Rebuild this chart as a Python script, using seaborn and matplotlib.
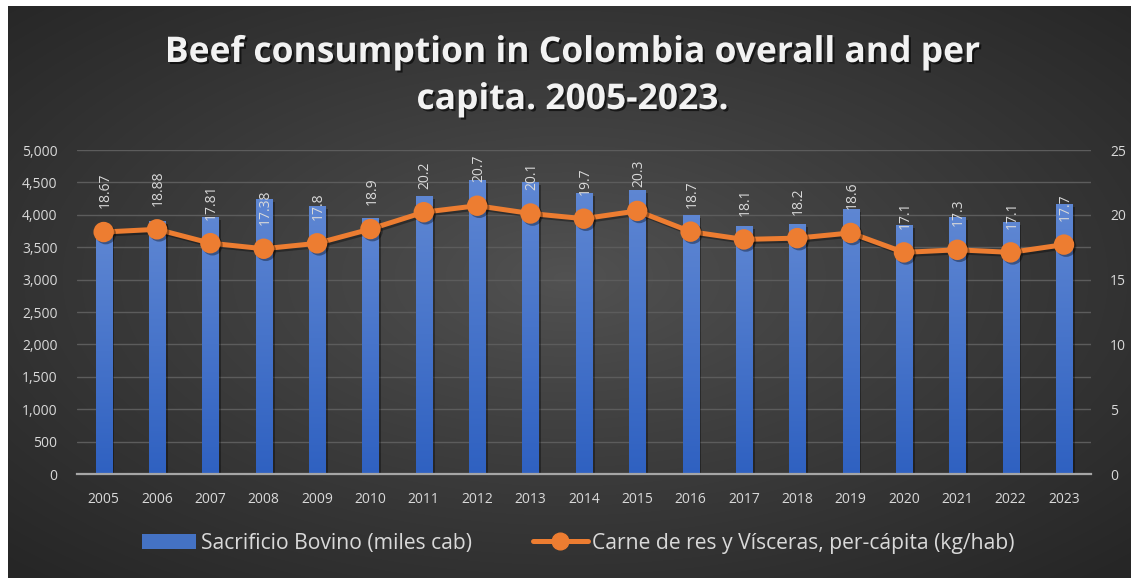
import numpy as np
import matplotlib
matplotlib.use("Agg")
import matplotlib.pyplot as plt
import matplotlib.patheffects as pe
from matplotlib.colors import LinearSegmentedColormap, to_rgb
from matplotlib.patches import Patch
from matplotlib.lines import Line2D
import seaborn as sns

# ---- data -------------------------------------------------------------
years = [str(y) for y in range(2005, 2024)]
sacrificio = [3740, 3905, 3965, 4245, 4140, 3955, 4290, 4540, 4505, 4335,
              4385, 4000, 3830, 3860, 4090, 3845, 3965, 3890, 4170]
per_capita = [18.67, 18.88, 17.81, 17.38, 17.8, 18.9, 20.2, 20.7, 20.1, 19.7,
              20.3, 18.7, 18.1, 18.2, 18.6, 17.1, 17.3, 17.1, 17.7]
left_ticks = list(range(0, 5001, 500))
right_ticks = list(range(0, 26, 5))
title_lines = ["Beef consumption in Colombia overall and per",
               "capita. 2005-2023."]
bar_label = "Sacrificio Bovino (miles cab)"
line_label = "Carne de res y Vísceras, per-cápita (kg/hab)"

# ---- style ------------------------------------------------------------
sns.set_theme(style="white")
plt.rcParams["font.family"] = ["Open Sans", "DejaVu Sans"]

TEXT = "#d9d9d9"
ORANGE = "#ED7D31"
BLUE = "#4472C4"

W, H, DPI = 1131, 578, 100
fig = plt.figure(figsize=(W / DPI, H / DPI), dpi=DPI, facecolor="white")

# dark panel with a soft radial gradient
bg = fig.add_axes([0, 0, 1, 1])
bg.set_axis_off()
yy, xx = np.mgrid[0:H, 0:W]
cx, cy = 0.50 * W, 0.48 * H
d = np.sqrt(((xx - cx) / (W / 2)) ** 2 + ((yy - cy) / (H / 2)) ** 2) / np.sqrt(2)
d = np.clip(d, 0, 1) ** 0.9
c_in = np.array(to_rgb("#525252"))
c_out = np.array(to_rgb("#262626"))
img = c_in[None, None, :] * (1 - d[..., None]) + c_out[None, None, :] * d[..., None]
mask = (xx < 8) | (yy < 6)
img[mask] = 1.0
bg.imshow(img, aspect="auto", interpolation="bilinear")

# ---- main axes --------------------------------------------------------
ax = fig.add_axes([77 / W, 1 - 474 / H, (1090.7 - 77) / W, (474 - 150) / H])
ax.patch.set_alpha(0)

sns.barplot(x=years, y=sacrificio, ax=ax, width=0.3, color=BLUE,
            saturation=1, errorbar=None, edgecolor="none", linewidth=0)

# vertical gradient fill on every bar
bar_cmap = LinearSegmentedColormap.from_list("barfill", ["#2f61c1", "#5f87d3"])
grad = np.linspace(0, 1, 256).reshape(-1, 1)
for p in list(ax.patches):
    x0, w, h = p.get_x(), p.get_width(), p.get_height()
    p.set_path_effects([pe.SimplePatchShadow(offset=(2, -2), alpha=0.35,
                                             shadow_rgbFace="black"),
                        pe.Normal()])
    im = ax.imshow(grad, extent=[x0 - 0.02, x0 + w + 0.02, 0, h * 1.01],
                   origin="lower", aspect="auto", cmap=bar_cmap,
                   interpolation="nearest", zorder=p.get_zorder() + 0.1)
    im.set_clip_path(p)

ax.set_xlim(-0.5, len(years) - 0.5)
ax.set_ylim(0, 5000)
ax.set_yticks(left_ticks)
ax.set_yticklabels([f"{v:,}" for v in left_ticks])
ax.set_xlabel("")
ax.set_ylabel("")
ax.yaxis.grid(True, color="#5c5c5c", linewidth=1)
ax.xaxis.grid(False)
ax.set_axisbelow(True)
for s in ["left", "right", "top"]:
    ax.spines[s].set_visible(False)
ax.spines["bottom"].set_color("#a6a6a6")
ax.spines["bottom"].set_linewidth(1.6)
ax.spines["bottom"].set_zorder(5)
ax.tick_params(axis="both", length=0, colors=TEXT, labelsize=10)
ax.tick_params(axis="y", pad=14)
ax.tick_params(axis="x", pad=13)

# ---- per-capita line on the secondary axis ----------------------------
ax2 = ax.twinx()
sns.pointplot(x=years, y=per_capita, ax=ax2, color=ORANGE, markers="o",
              markersize=12, linewidth=3.6, errorbar=None)
for ln in ax2.lines:
    ln.set_path_effects([pe.SimpleLineShadow(offset=(1.5, -1.5), alpha=0.35,
                                             shadow_color="black"),
                         pe.Normal()])
ax2.set_ylim(0, 25)
ax2.set_xlim(-0.5, len(years) - 0.5)
ax2.set_yticks(right_ticks)
ax2.set_yticklabels([str(v) for v in right_ticks])
ax2.set_ylabel("")
ax2.set_xlabel("")
for s in ax2.spines.values():
    s.set_visible(False)
ax2.tick_params(axis="y", length=0, colors=TEXT, labelsize=10, pad=14)
ax2.grid(False)

for i, v in enumerate(per_capita):
    ax2.annotate(f"{v:g}", (i, v), xytext=(1, 17), textcoords="offset points",
                 rotation=90, ha="center", va="bottom", color=TEXT,
                 fontsize=10)

# ---- title ------------------------------------------------------------
shadow = [pe.SimplePatchShadow(offset=(1.5, -1.5), alpha=0.6,
                               shadow_rgbFace="black"), pe.Normal()]
fig.text(572 / W, 1 - 62 / H, title_lines[0], ha="center", va="baseline",
         fontsize=25.5, fontweight="bold", color="#f2f2f2", path_effects=shadow)
fig.text(572 / W, 1 - 109 / H, title_lines[1], ha="center", va="baseline",
         fontsize=25.5, fontweight="bold", color="#f2f2f2", path_effects=shadow)

# ---- legend -----------------------------------------------------------
handles = [Patch(facecolor=BLUE, edgecolor="none"),
           Line2D([], [], color=ORANGE, lw=3.6, marker="o", markersize=12)]
fig.legend(handles, [bar_label, line_label], loc="center",
           bbox_to_anchor=(578 / W, 1 - 543 / H), ncol=2, frameon=False,
           fontsize=15.2, handlelength=2.6, handletextpad=0.2,
           columnspacing=2.9, labelcolor=TEXT)

fig.savefig("out.png", dpi=DPI, facecolor="white")
